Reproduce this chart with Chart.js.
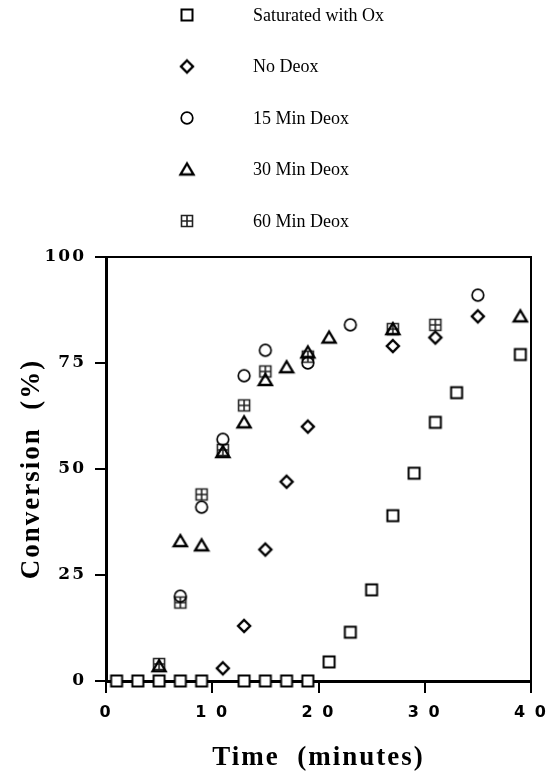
<!DOCTYPE html>
<html>
<head>
<meta charset="utf-8">
<script src="https://cdn.jsdelivr.net/npm/chart.js@4.4.1/dist/chart.umd.min.js"></script>
<style>
  body { margin: 0; background: #fff; }
  canvas { display: block; }
</style>
</head>
<body>
<canvas id="chart" width="548" height="773"></canvas>
<script>
// series names, in the legend's order
const seriesNames = ['Saturated with Ox', 'No Deox', '15 Min Deox', '30 Min Deox', '60 Min Deox'];

// time (minutes) and conversion (%)
const satOxX = [1, 3, 5, 7, 9, 13, 15, 17, 19, 21, 23, 25, 27, 29, 31, 33, 39];
const satOxY = [0, 0, 0, 0, 0, 0, 0, 0, 0, 4.5, 11.5, 21.5, 39, 49, 61, 68, 77];

const noDeoxX = [11, 13, 15, 17, 19, 27, 31, 35];
const noDeoxY = [3, 13, 31, 47, 60, 79, 81, 86];

const deox15X = [7, 9, 11, 13, 15, 19, 23, 35];
const deox15Y = [20, 41, 57, 72, 78, 75, 84, 91];

const deox30X = [5, 7, 9, 11, 13, 15, 17, 19, 21, 27, 39];
const deox30Y = [3.5, 33, 32, 54, 61, 71, 74, 77.5, 81, 83, 86];

const deox60X = [5, 7, 9, 11, 13, 15, 19, 27, 31];
const deox60Y = [4, 18.5, 44, 54.5, 65, 73, 76.5, 83, 84];

const xTicks = [0, 10, 20, 30, 40];
const xTickLabels = ['0', '1 0', '2 0', '3 0', '4 0'];
const yTicks = [0, 25, 50, 75, 100];

function pts(xs, ys) {
  return xs.map((x, i) => ({x: x, y: ys[i]}));
}

// small canvas markers, black outline like the print
function marker(kind) {
  const c = document.createElement('canvas');
  c.width = 18; c.height = 18;
  const g = c.getContext('2d');
  g.strokeStyle = '#000';
  g.fillStyle = '#fff';
  g.lineWidth = 2;
  g.beginPath();
  if (kind === 'square') {
    g.rect(3.5, 3.5, 11, 11);
    g.fill();
  } else if (kind === 'diamond') {
    g.lineWidth = 2.4;
    g.moveTo(9, 3); g.lineTo(15, 9); g.lineTo(9, 15); g.lineTo(3, 9); g.closePath();
  } else if (kind === 'circle') {
    g.lineWidth = 1.7;
    g.arc(9, 9, 5.8, 0, Math.PI * 2);
  } else if (kind === 'triangle') {
    g.lineWidth = 2.4;
    g.moveTo(9, 3); g.lineTo(15.5, 14); g.lineTo(2.5, 14); g.closePath();
  } else if (kind === 'crossSquare') {
    g.strokeStyle = '#222';
    g.lineWidth = 1.6;
    g.rect(3.5, 3.5, 11, 11);
    g.moveTo(9, 3.5); g.lineTo(9, 14.5);
    g.moveTo(3.5, 9); g.lineTo(14.5, 9);
  }
  g.stroke();
  return c;
}

const markers = [marker('square'), marker('diamond'), marker('circle'), marker('triangle'), marker('crossSquare')];

const textSpacing = {
  id: 'textSpacing',
  beforeDraw(chart) {
    chart.ctx.letterSpacing = '2px';
  }
};

const frame = {
  id: 'frame',
  beforeDatasetsDraw(chart) {
    const {ctx, chartArea: a} = chart;
    ctx.save();
    ctx.strokeStyle = '#000';
    ctx.lineWidth = 2;
    ctx.beginPath();
    ctx.moveTo(a.left, a.top);
    ctx.lineTo(a.right, a.top);
    ctx.lineTo(a.right, a.bottom);
    ctx.stroke();
    ctx.restore();
  }
};

const stackedLegend = {
  id: 'stackedLegend',
  afterDraw(chart) {
    const ctx = chart.ctx;
    ctx.save();
    ctx.letterSpacing = '0px';
    ctx.font = '18px "Liberation Serif"';
    ctx.fillStyle = '#000';
    ctx.textBaseline = 'middle';
    chart.data.datasets.forEach((ds, i) => {
      const y = 15 + i * 51.5;
      ctx.drawImage(ds.pointStyle, 187 - 9, y - 9);
      ctx.fillText(ds.label, 253, y + 1);
    });
    ctx.restore();
  }
};

function dataset(i, xs, ys) {
  return {
    label: seriesNames[i],
    data: pts(xs, ys),
    pointStyle: markers[i],
    showLine: false,
    clip: false
  };
}

new Chart(document.getElementById('chart'), {
  type: 'scatter',
  data: {
    datasets: [
      dataset(0, satOxX, satOxY),
      dataset(1, noDeoxX, noDeoxY),
      dataset(2, deox15X, deox15Y),
      dataset(3, deox30X, deox30Y),
      dataset(4, deox60X, deox60Y)
    ]
  },
  options: {
    responsive: false,
    animation: false,
    layout: { padding: { top: 257, right: 17, left: 0, bottom: 0 } },
    plugins: {
      legend: { display: false },
      tooltip: { enabled: false }
    },
    scales: {
      x: {
        type: 'linear',
        min: 0,
        max: 40,
        afterFit(scale) {
          scale.height = 92;
          scale.paddingLeft = 0;
          scale.paddingRight = 0;
        },
        afterBuildTicks(scale) { scale.ticks = xTicks.map(v => ({value: v})); },
        ticks: {
          color: '#000',
          padding: 10,
          maxRotation: 0,
          font: { family: '"DejaVu Sans"', weight: 'bold', size: 16 },
          callback: (v) => xTickLabels[xTicks.indexOf(v)]
        },
        grid: { drawOnChartArea: false, drawTicks: true, tickLength: 12, color: '#000', lineWidth: 2 },
        border: { display: true, color: '#000', width: 3 },
        title: {
          display: true,
          text: 'Time  (minutes)',
          color: '#000',
          font: { family: '"Liberation Serif"', weight: 'bold', size: 27, lineHeight: 1 },
          padding: { top: 0, bottom: 1 }
        }
      },
      y: {
        type: 'linear',
        min: 0,
        max: 100,
        afterFit(scale) {
          scale.width = 106;
          scale.paddingTop = 0;
          scale.paddingBottom = 0;
        },
        afterBuildTicks(scale) { scale.ticks = yTicks.map(v => ({value: v})); },
        ticks: {
          color: '#000',
          padding: 9,
          font: { family: '"DejaVu Serif"', weight: 'bold', size: 17 }
        },
        grid: { drawOnChartArea: false, drawTicks: true, tickLength: 11, color: '#000', lineWidth: 2 },
        border: { display: true, color: '#000', width: 3 },
        title: {
          display: true,
          text: 'Conversion  (%)',
          color: '#000',
          font: { family: '"Liberation Serif"', weight: 'bold', size: 27, lineHeight: 1 },
          padding: { top: 19, bottom: 0 }
        }
      }
    }
  },
  plugins: [textSpacing, frame, stackedLegend]
});
</script>
</body>
</html>
